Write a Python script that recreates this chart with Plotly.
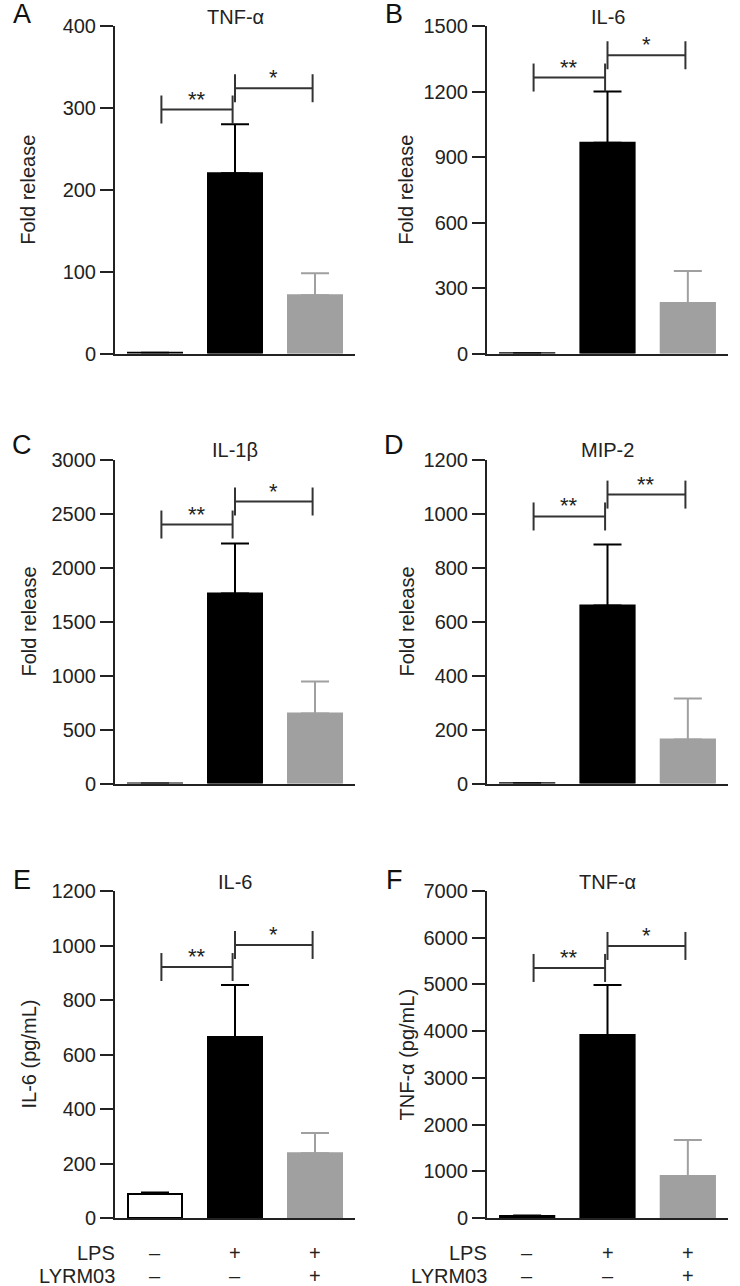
import plotly.graph_objects as go

# ---------------- data ----------------
groups = [0, 1, 2]                      # control, LPS, LPS + LYRM03
lps_signs = ["–", "+", "+"]
lyrm03_signs = ["–", "–", "+"]

tnf_fold_mean = [1, 220, 71]
tnf_fold_sem = [0, 60, 27]
il6_fold_mean = [1, 965, 231]
il6_fold_sem = [0, 235, 147]
il1b_fold_mean = [1, 1759, 648]
il1b_fold_sem = [0, 463, 296]
mip2_fold_mean = [1, 659, 163]
mip2_fold_sem = [0, 226, 152]
il6_pg_mean = [88, 664, 238]
il6_pg_sem = [6, 191, 74]
tnf_pg_mean = [45, 3919, 900]
tnf_pg_sem = [8, 1071, 770]

# significance bracket heights (data units) and labels
tnf_fold_sig = [298, 324]
il6_fold_sig = [1264, 1366]
il1b_fold_sig = [2398, 2611]
mip2_fold_sig = [989, 1070]
il6_pg_sig = [921, 1002]
tnf_pg_sig = [5353, 5824]
tnf_fold_stars = ["**", "*"]
il6_fold_stars = ["**", "*"]
il1b_fold_stars = ["**", "*"]
mip2_fold_stars = ["**", "**"]
il6_pg_stars = ["**", "*"]
tnf_pg_stars = ["**", "*"]

y_max = [400, 1500, 3000, 1200, 1200, 7000]
y_step = [100, 300, 500, 200, 200, 1000]

panels = [
    ("A", "TNF-α", "Fold release", tnf_fold_mean, tnf_fold_sem, tnf_fold_sig, tnf_fold_stars),
    ("B", "IL-6", "Fold release", il6_fold_mean, il6_fold_sem, il6_fold_sig, il6_fold_stars),
    ("C", "IL-1β", "Fold release", il1b_fold_mean, il1b_fold_sem, il1b_fold_sig, il1b_fold_stars),
    ("D", "MIP-2", "Fold release", mip2_fold_mean, mip2_fold_sem, mip2_fold_sig, mip2_fold_stars),
    ("E", "IL-6", "IL-6 (pg/mL)", il6_pg_mean, il6_pg_sem, il6_pg_sig, il6_pg_stars),
    ("F", "TNF-α", "TNF-α (pg/mL)", tnf_pg_mean, tnf_pg_sem, tnf_pg_sig, tnf_pg_stars),
]

# ---------------- styling / layout ----------------
W, H = 740, 1286
FONT = "Liberation Sans, Arial, sans-serif"
INK = "#222222"
GRAY = "#a0a0a0"
fills = ["#ffffff", "#000000", GRAY]
outlines = ["#000000", "#000000", GRAY]
err_colors = ["#000000", "#000000", GRAY]
BAR_W = 0.675
BRACKETS = [(0.08, 0.97), (1.0, 1.97)]
FS = 20

# target positions in page pixels
col_px = [(115, 355), (487, 728)]
row_px = [(26, 353.5), (459.5, 783.5), (891, 1218)]
title_py = [17, 450, 882]
letter_px = [22, 394]
letter_py = [14, 445, 880]
ylabel_px = [28, 406]


def fx(p):
    return p / W


def fy(p):
    return 1 - p / H


fig = go.Figure()
annotations = []

for i, (letter, title, ylabel, mean, sem, sig, stars) in enumerate(panels):
    n = i + 1
    col, row = i % 2, i // 2
    xa, ya = f"x{n}", f"y{n}"
    xkey = "xaxis" if n == 1 else f"xaxis{n}"
    ykey = "yaxis" if n == 1 else f"yaxis{n}"

    for g in groups:
        fig.add_trace(go.Bar(
            x=[g], y=[mean[g]], width=BAR_W,
            marker=dict(color=fills[g], line=dict(color=outlines[g], width=2)),
            error_y=dict(type="data", symmetric=False, array=[sem[g]], arrayminus=[0],
                         color=err_colors[g], thickness=2, width=14),
            xaxis=xa, yaxis=ya, showlegend=False, hoverinfo="skip",
        ))

    for (x0, x1), h, s in zip(BRACKETS, sig, stars):
        fig.add_trace(go.Scatter(
            x=[x0, x1], y=[h, h], mode="lines+markers",
            line=dict(color="#333333", width=2),
            marker=dict(symbol="line-ns-open", size=20, line=dict(color="#333333", width=2)),
            xaxis=xa, yaxis=ya, showlegend=False, hoverinfo="skip", cliponaxis=False,
        ))
        annotations.append(dict(
            x=(x0 + x1) / 2, y=h, xref=xa, yref=ya, text=s, showarrow=False,
            yanchor="bottom", yshift=-4, font=dict(family=FONT, size=22, color=INK),
        ))

    x0p, x1p = col_px[col]
    ytop, ybot = row_px[row]
    fig.layout[xkey] = dict(
        domain=[fx(x0p), fx(x1p)], range=[-0.5, 2.5], anchor=ya, automargin=False,
        showline=True, linecolor=INK, linewidth=2, ticks="", showticklabels=False,
        showgrid=False, zeroline=False, fixedrange=True,
    )
    fig.layout[ykey] = dict(
        domain=[fy(ybot), fy(ytop)], range=[0, y_max[i]], anchor=xa, automargin=False,
        tickmode="linear", tick0=0, dtick=y_step[i],
        showline=True, linecolor=INK, linewidth=2, ticks="outside", ticklen=13,
        tickwidth=2, tickcolor=INK, showgrid=False, zeroline=False,
        tickfont=dict(family=FONT, size=FS, color=INK), fixedrange=True,
    )

    # title
    annotations.append(dict(
        x=1, y=fy(title_py[row]), xref=xa, yref="paper", text=title, showarrow=False,
        yanchor="middle", font=dict(family=FONT, size=FS, color=INK),
    ))
    # panel letter
    annotations.append(dict(
        x=fx(letter_px[col]), y=fy(letter_py[row]), xref="paper", yref="paper",
        text=letter, showarrow=False, xanchor="center", yanchor="middle",
        font=dict(family=FONT, size=27, color="#111111"),
    ))
    # y label
    annotations.append(dict(
        x=fx(ylabel_px[col]), y=fy((ytop + ybot) / 2), xref="paper", yref="paper",
        text=ylabel, showarrow=False, textangle=-90, xanchor="center", yanchor="middle",
        font=dict(family=FONT, size=FS, color=INK),
    ))

    if row == 2:
        for label, signs, py in (("LPS", lps_signs, 1253), ("LYRM03", lyrm03_signs, 1276)):
            annotations.append(dict(
                x=fx(x0p + 2), y=fy(py), xref="paper", yref="paper", text=label,
                showarrow=False, xanchor="right", yanchor="middle",
                font=dict(family=FONT, size=FS, color=INK),
            ))
            for g in groups:
                annotations.append(dict(
                    x=g, y=fy(py), xref=xa, yref="paper", text=signs[g],
                    showarrow=False, xanchor="center", yanchor="middle",
                    font=dict(family=FONT, size=FS, color=INK),
                ))

fig.update_layout(
    width=W, height=H, margin=dict(l=0, r=0, t=0, b=0, autoexpand=False),
    paper_bgcolor="white", plot_bgcolor="white", barmode="overlay",
    annotations=annotations, showlegend=False,
)

# remove the browser's default 8px page margin so the figure fills the window
fig.write_html("out.html", config={"displayModeBar": False},
               post_script="document.body.style.margin = '0';")
